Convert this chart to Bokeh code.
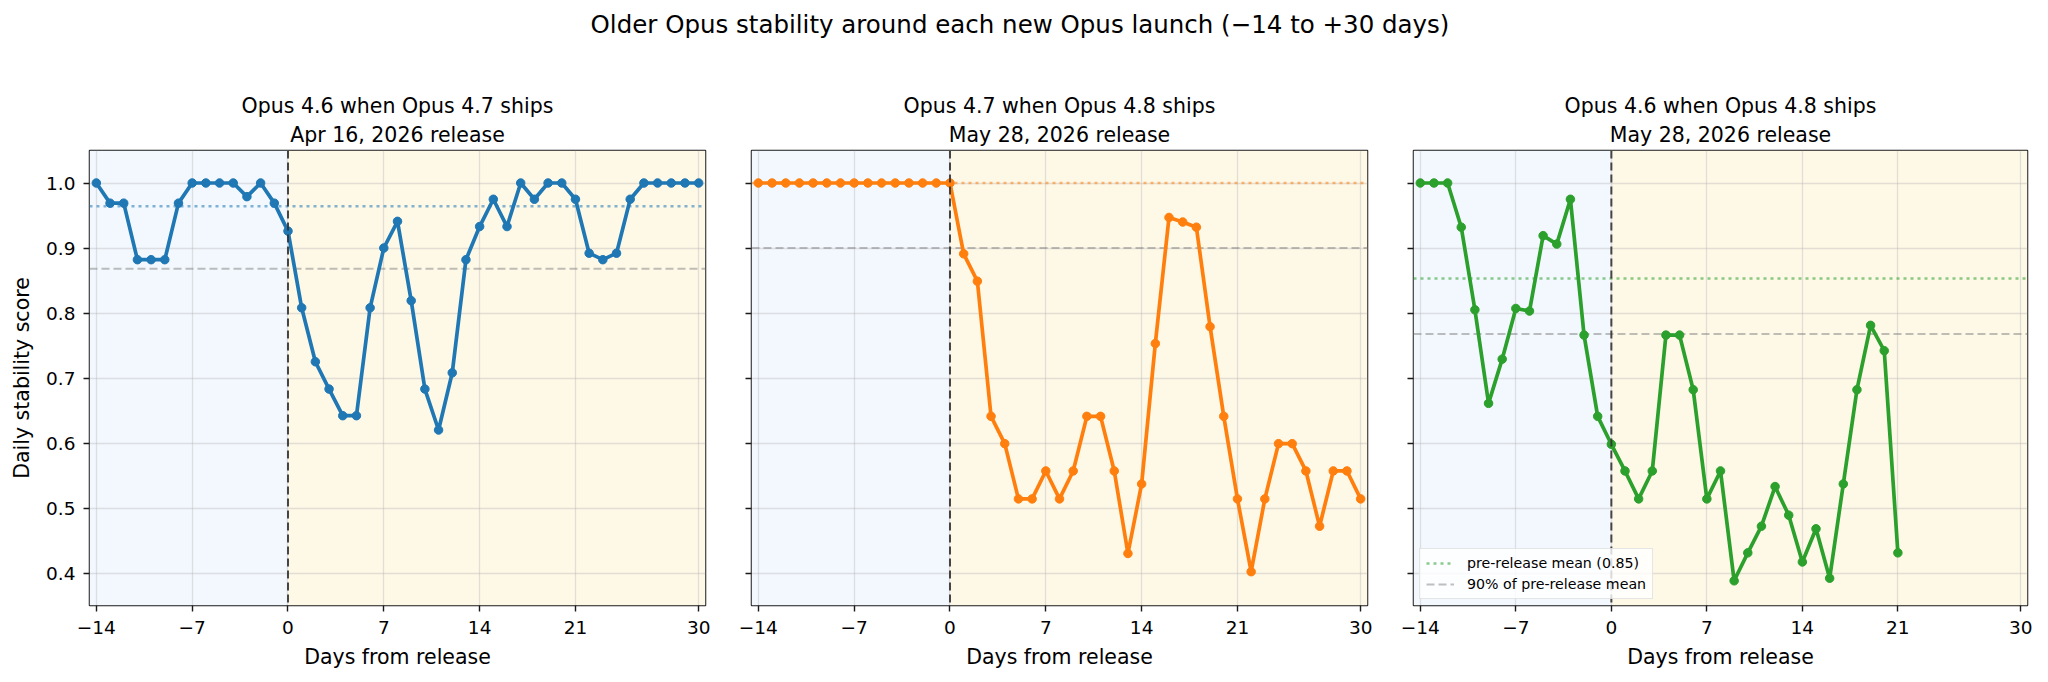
from bokeh.plotting import figure
from bokeh.layouts import column, row
from bokeh.models import (Div, Span, BoxAnnotation, FixedTicker, Legend,
                          LegendItem, Range1d, Title)
from bokeh.embed import file_html
from bokeh.resources import INLINE

# ---------------- data ----------------
suptitle = "Older Opus stability around each new Opus launch (\u221214 to +30 days)"

p1_title = ["Opus 4.6 when Opus 4.7 ships", "Apr 16, 2026 release"]
p1_days = list(range(-14, 31))
p1_values = [1.0, 0.969, 0.969, 0.882, 0.882, 0.882, 0.969, 1.0, 1.0, 1.0,
             1.0, 0.979, 1.0, 0.969, 0.926, 0.808, 0.725, 0.683, 0.642, 0.642,
             0.808, 0.900, 0.941, 0.819, 0.683, 0.620, 0.708, 0.882, 0.933, 0.975,
             0.933, 1.0, 0.975, 1.0, 1.0, 0.975, 0.892, 0.882, 0.892, 0.975,
             1.0, 1.0, 1.0, 1.0, 1.0]

p2_title = ["Opus 4.7 when Opus 4.8 ships", "May 28, 2026 release"]
p2_days = list(range(-14, 31))
p2_values = [1.0, 1.0, 1.0, 1.0, 1.0, 1.0, 1.0, 1.0, 1.0, 1.0,
             1.0, 1.0, 1.0, 1.0, 1.0, 0.891, 0.849, 0.641, 0.599, 0.514,
             0.514, 0.557, 0.514, 0.557, 0.641, 0.641, 0.557, 0.430, 0.537, 0.753,
             0.947, 0.940, 0.932, 0.779, 0.641, 0.514, 0.402, 0.514, 0.599, 0.599,
             0.557, 0.472, 0.557, 0.557, 0.514]

p3_title = ["Opus 4.6 when Opus 4.8 ships", "May 28, 2026 release"]
p3_days = list(range(-14, 22))
p3_values = [1.0, 1.0, 1.0, 0.932, 0.805, 0.661, 0.729, 0.807, 0.803, 0.919,
             0.906, 0.975, 0.766, 0.641, 0.598, 0.557, 0.514, 0.557, 0.766, 0.766,
             0.682, 0.514, 0.557, 0.388, 0.431, 0.472, 0.533, 0.489, 0.417, 0.468,
             0.392, 0.537, 0.682, 0.781, 0.742, 0.431]

x_ticks = [-14, -7, 0, 7, 14, 21, 30]
x_tick_labels = ["\u221214", "\u22127", "0", "7", "14", "21", "30"]
y_ticks = [0.4, 0.5, 0.6, 0.7, 0.8, 0.9, 1.0]
y_tick_labels = ["0.4", "0.5", "0.6", "0.7", "0.8", "0.9", "1.0"]

colors = ["#1f77b4", "#ff7f0e", "#2ca02c"]

FONT = "DejaVu Sans"
TITLE_SIZE = "20.5px"
LABEL_SIZE = "20.5px"
TICK_SIZE = "18.5px"
X_START, X_END = -14.5, 30.5
Y_START, Y_END = 0.35, 1.05


def make_panel(title_lines, days, values, color, frame_w, left_border,
               show_ylabels, legend):
    xr = Range1d(X_START, X_END)
    p = figure(frame_width=frame_w, frame_height=455,
               min_border_left=left_border, min_border_right=10,
               min_border_top=82, min_border_bottom=70,
               x_range=xr, y_range=Range1d(Y_START, Y_END),
               output_backend="svg", toolbar_location=None,
               background_fill_color="white", border_fill_color="white")
    p.title = None
    # second line (closest to plot) first, then the first line above it
    t2 = Title(text=title_lines[1], align="center", text_font=FONT,
               text_font_size=TITLE_SIZE, text_font_style="normal",
               text_color="black", standoff=7, text_line_height=0.85)
    t1 = Title(text=title_lines[0], align="center", text_font=FONT,
               text_font_size=TITLE_SIZE, text_font_style="normal",
               text_color="black", standoff=0)
    p.add_layout(t2, "above")
    p.add_layout(t1, "above")

    p.outline_line_color = "#1a1a1a"
    p.outline_line_width = 1.5
    p.outline_line_alpha = 1.0

    # background regions
    p.add_layout(BoxAnnotation(left=X_START, right=0, fill_color="#f3f8fe",
                               fill_alpha=1.0, line_color=None, level="image"))
    p.add_layout(BoxAnnotation(left=0, right=X_END, fill_color="#fef8e7",
                               fill_alpha=1.0, line_color=None, level="image"))

    for ax in (p.xaxis[0], p.yaxis[0]):
        ax.axis_line_color = None
        ax.major_tick_out = 6
        ax.major_tick_in = 0
        ax.minor_tick_line_color = None
        ax.major_tick_line_color = "#1a1a1a"
        ax.major_tick_line_width = 1.4
        ax.major_label_text_font = FONT
        ax.major_label_text_font_size = TICK_SIZE
        ax.major_label_text_color = "black"
        ax.axis_label_text_font = FONT
        ax.axis_label_text_font_size = LABEL_SIZE
        ax.axis_label_text_font_style = "normal"
        ax.axis_label_text_color = "black"

    p.xaxis.ticker = FixedTicker(ticks=x_ticks)
    p.xaxis.major_label_overrides = dict(zip(x_ticks, x_tick_labels))
    p.xaxis.major_label_standoff = 9
    p.xaxis.axis_label = "Days from release"
    p.xaxis.axis_label_standoff = 8

    p.yaxis.ticker = FixedTicker(ticks=y_ticks)
    p.yaxis.major_label_overrides = dict(zip(y_ticks, y_tick_labels))
    if show_ylabels:
        p.yaxis.axis_label = "Daily stability score"
        p.yaxis.major_label_standoff = 8
        p.yaxis.axis_label_standoff = 9
    else:
        p.yaxis.major_label_text_font_size = "1px"
        p.yaxis.major_label_text_color = None
        p.yaxis.major_label_standoff = 0

    p.xgrid.ticker = FixedTicker(ticks=x_ticks)
    p.ygrid.ticker = FixedTicker(ticks=y_ticks)
    for g in (p.xgrid[0], p.ygrid[0]):
        g.grid_line_color = "#b0b0b0"
        g.grid_line_alpha = 0.35
        g.grid_line_width = 1.3

    pre = [v for d, v in zip(days, values) if d < 0]
    mean = sum(pre) / len(pre)

    r_mean = p.line([X_START, X_END], [mean, mean], line_color=color,
                    line_alpha=0.55, line_width=2.5, line_dash="3 4")
    r_90 = p.line([X_START, X_END], [0.9 * mean, 0.9 * mean], line_color="gray",
                  line_alpha=0.5, line_width=2, line_dash="8 4")
    p.add_layout(Span(location=0, dimension="height", line_color="#333333",
                      line_alpha=0.9, line_width=2, line_dash="8 4"))

    p.line(days, values, line_color=color, line_width=3.7)
    p.scatter(days, values, size=8.5, fill_color=color, line_color=color)

    if legend:
        lg = Legend(items=[
            LegendItem(label="pre-release mean (%.2f)" % mean, renderers=[r_mean]),
            LegendItem(label="90% of pre-release mean", renderers=[r_90]),
        ], location="bottom_left")
        lg.label_text_font = FONT
        lg.label_text_font_size = "14.2px"
        lg.label_text_color = "black"
        lg.glyph_width = 28
        lg.glyph_height = 16
        lg.label_height = 16
        lg.label_standoff = 13
        lg.spacing = 5
        lg.padding = 6
        lg.margin = 6
        lg.background_fill_alpha = 0.8
        lg.border_line_color = "#cccccc"
        lg.border_line_width = 1.2
        p.add_layout(lg)
    return p


f1 = make_panel(p1_title, p1_days, p1_values, colors[0], 616, 89, True, False)
f2 = make_panel(p2_title, p2_days, p2_values, colors[1], 616, 36, False, False)
f3 = make_panel(p3_title, p3_days, p3_values, colors[2], 614, 36, False, True)

head = Div(text=suptitle, width=2040, height=68, margin=(0, 0, 0, 0),
           styles={"font-family": FONT, "font-size": "24.5px",
                   "text-align": "center", "color": "black",
                   "line-height": "28px", "padding-top": "11px",
                   "box-sizing": "border-box"})

layout = column(head, row(f1, f2, f3, spacing=0), spacing=0)

open("out.html", "w").write(file_html(layout, INLINE))
